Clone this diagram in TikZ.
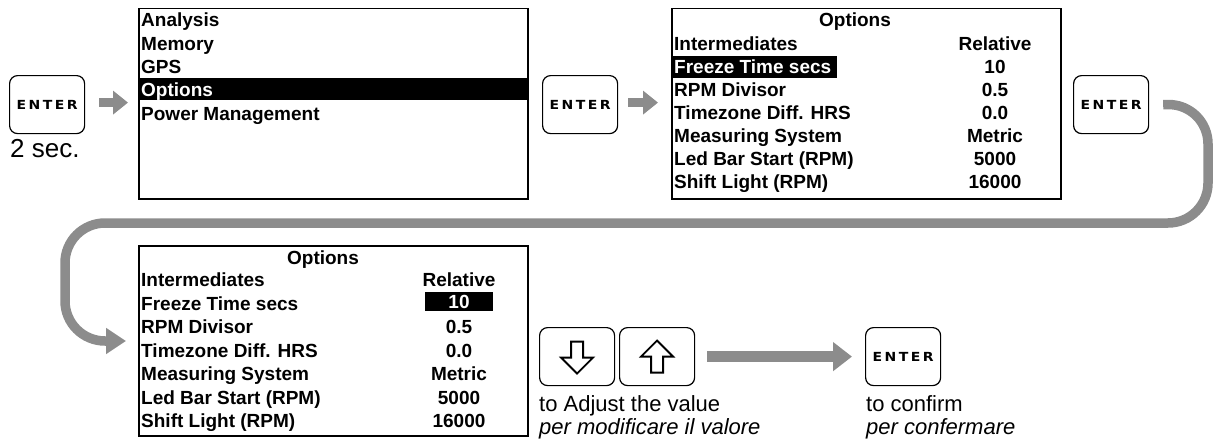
\documentclass[tikz,border=0pt]{standalone}
\usepackage{fontspec}
\usepackage{graphicx}
\setmainfont{Liberation Sans}
\newfontfamily\keyfont{DejaVu Sans}
\usetikzlibrary{arrows.meta}

\definecolor{flowgray}{RGB}{140,140,140}

% lettering printed on the ENTER key caps (wide, spaced capitals)
\newcommand\enterlabel{{\keyfont\bfseries\fontsize{12.5}{12.5}\selectfont
  \scalebox{1.12}[1]{E\kern2.2pt N\kern2.2pt T\kern2.2pt E\kern2.2pt R}}}

\tikzset{
  screen/.style={draw=black, line width=1.5pt, minimum width=389pt,
    minimum height=190pt, anchor=north west, inner sep=0pt},
  keycap/.style={draw=black, line width=1.2pt, rounded corners=8pt,
    minimum width=75pt, minimum height=58pt, anchor=north west, inner sep=0pt},
  row/.style={font=\fontsize{19}{19}\selectfont\bfseries,
    anchor=base west, inner sep=0pt},
  val/.style={font=\fontsize{19}{19}\selectfont\bfseries,
    anchor=base, inner sep=0pt},
  caption/.style={font=\fontsize{22}{22}\selectfont, anchor=base west, inner sep=0pt},
  subcaption/.style={font=\fontsize{22}{22}\selectfont\itshape, anchor=base west, inner sep=0pt},
  keyglyph/.style={draw=black, line width=1.8pt, line join=miter},
  smallflow/.style={draw=flowgray, line width=9pt,
    -{Triangle[length=15pt,width=23pt]}},
  wideflow/.style={draw=flowgray, line width=11.5pt,
    -{Triangle[length=19pt,width=28pt]}},
  loopflow/.style={draw=flowgray, line width=9.5pt, rounded corners=40pt,
    -{Triangle[length=20pt,width=25pt]}},
}

\begin{document}
\begin{tikzpicture}[x=1pt, y=-1pt]
\useasboundingbox (0,0) rectangle (1214,444);

% ---------- key caps ----------
\node[keycap] (key1) at (9,75) {\enterlabel};
\node[keycap] (key2) at (542,75) {\enterlabel};
\node[keycap] (key3) at (1073,75) {\enterlabel};
\node[keycap] (down) at (539,327) {};
\node[keycap] (up) at (619,327) {};
\node[keycap] (key4) at (865,327) {\enterlabel};

% hollow arrow glyphs on the cursor keys
\draw[keyglyph] ([shift={(0,-16)}]up.center) -- ++(16,16) -- ++(-10,0) -- ++(0,16)
  -- ++(-12,0) -- ++(0,-16) -- ++(-10,0) -- cycle;
\draw[keyglyph] ([shift={(0,17)}]down.center) -- ++(16,-16) -- ++(-10,0) -- ++(0,-16)
  -- ++(-12,0) -- ++(0,16) -- ++(-10,0) -- cycle;

% ---------- main menu ----------
\node[screen] (menu) at (138,8) {};
\fill[black] (139,78) rectangle (527,100);
\node[row] (m1) at (141,27) {Analysis};
\node[row] (m2) at (141,50.3) {Memory};
\node[row] (m3) at (141,73.6) {GPS};
\node[row, text=white] (m4) at (141,96.9) {Options};
\node[row] (m5) at (141,120.2) {Power Management};

% ---------- options list, row selected ----------
\node[screen] (opts) at (671,8) {};
\fill[black] (672.5,56.5) rectangle (837,77.5);
\node[val] (a0) at (855,27) {Options};
\node[row] (a1) at (674,50.5) {Intermediates};
\node[row, text=white] (a2) at (674,73.5) {Freeze Time secs};
\node[row] (a3) at (674,96.5) {RPM Divisor};
\node[row] (a4) at (674,119.5) {Timezone Diff. HRS};
\node[row] (a5) at (674,142.5) {Measuring System};
\node[row] (a6) at (674,165.5) {Led Bar Start (RPM)};
\node[row] (a7) at (674,188.5) {Shift Light (RPM)};
\node[val] (av1) at (995,50.5) {Relative};
\node[val] (av2) at (995,73.5) {10};
\node[val] (av3) at (995,96.5) {0.5};
\node[val] (av4) at (995,119.5) {0.0};
\node[val] (av5) at (995,142.5) {Metric};
\node[val] (av6) at (995,165.5) {5000};
\node[val] (av7) at (995,188.5) {16000};

% ---------- options list, value selected ----------
\node[screen] (edit) at (138,245) {};
\fill[black] (425,292) rectangle (493,310.5);
\node[val] (b0) at (323,264) {Options};
\node[row] (b1) at (141,286.5) {Intermediates};
\node[row] (b2) at (141,310) {Freeze Time secs};
\node[row] (b3) at (141,333.5) {RPM Divisor};
\node[row] (b4) at (141,357) {Timezone Diff. HRS};
\node[row] (b5) at (141,380.5) {Measuring System};
\node[row] (b6) at (141,404) {Led Bar Start (RPM)};
\node[row] (b7) at (141,427.5) {Shift Light (RPM)};
\node[val] (bv1) at (459,286.5) {Relative};
\node[val, text=white] (bv2) at (459,308) {10};
\node[val] (bv3) at (459,333.5) {0.5};
\node[val] (bv4) at (459,357) {0.0};
\node[val] (bv5) at (459,380.5) {Metric};
\node[val] (bv6) at (459,404) {5000};
\node[val] (bv7) at (459,427.5) {16000};

% ---------- captions ----------
\node[font=\fontsize{26}{26}\selectfont, anchor=base west, inner sep=0pt] (hold) at (10,157) {2 sec.};
\node[caption] (adj) at (539,411) {to Adjust the value};
\node[subcaption] (adjit) at (539,434) {per modificare il valore};
\node[caption] (conf) at (866,411) {to confirm};
\node[subcaption] (confit) at (866,434) {per confermare};

% ---------- flow arrows ----------
\draw[smallflow] ([xshift=14pt,yshift=2pt]key1.east) -- ([xshift=-10pt,yshift=2pt]key1.east -| menu.west);
\draw[smallflow] ([xshift=10pt,yshift=2pt]key2.east) -- ([xshift=-13pt,yshift=2pt]key2.east -| opts.west);
\draw[wideflow] ([xshift=12pt]up.east) -- ([xshift=-13pt]key4.west);
\coordinate (entry) at (126,341);
\draw[loopflow] ([xshift=14pt]key3.east) -- (1208,104) -- (1208,223) -- (65,223)
  -- (65,341) -- (entry);
\end{tikzpicture}
\end{document}
